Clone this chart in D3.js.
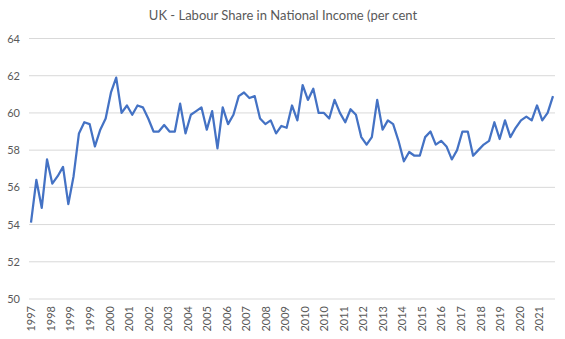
<!DOCTYPE html>
<html>
<head>
<meta charset="utf-8">
<script src="https://cdn.jsdelivr.net/npm/d3@7"></script>
<style>
  body { margin: 0; background: #fff; }
  text { font-family: Lato, "Open Sans", sans-serif; fill: #595959; }
</style>
</head>
<body>
<svg id="chart" width="565" height="339"></svg>
<script>
// Labour share of UK national income, quarterly, per cent
const chartTitle = "UK - Labour Share in National Income (per cent";
const firstQuarterEnd = [1997, 2]; // March 1997 (UTC month index)
const labourShare = [
  54.1, 56.4, 54.9, 57.5, 56.2, 56.6, 57.1, 55.1, 56.6, 58.9,
  59.5, 59.4, 58.2, 59.1, 59.7, 61.1, 61.9, 60.0, 60.4, 59.9,
  60.4, 60.3, 59.7, 59.0, 59.0, 59.35, 59.0, 59.0, 60.5, 58.9,
  59.9, 60.1, 60.3, 59.1, 60.1, 58.1, 60.3, 59.4, 59.9, 60.9,
  61.1, 60.8, 60.9, 59.7, 59.4, 59.6, 58.9, 59.3, 59.2, 60.4,
  59.6, 61.5, 60.7, 61.3, 60.0, 60.0, 59.7, 60.7, 60.0, 59.5,
  60.2, 59.9, 58.7, 58.3, 58.7, 60.7, 59.1, 59.6, 59.4, 58.5,
  57.4, 57.9, 57.7, 57.7, 58.7, 59.0, 58.3, 58.5, 58.2, 57.5,
  58.0, 59.0, 59.0, 57.7, 58.0, 58.3, 58.5, 59.5, 58.6, 59.6,
  58.7, 59.2, 59.6, 59.8, 59.6, 60.4, 59.6, 60.0, 60.9
];
const yTickValues = [50, 52, 54, 56, 58, 60, 62, 64];
const xTickStepMonths = 11;

const svg = d3.select("#chart");
const start = new Date(Date.UTC(firstQuarterEnd[0], firstQuarterEnd[1], 1));
const dates = labourShare.map((_, i) => d3.utcMonth.offset(start, 3 * i));
const spanMonths = 3 * (labourShare.length - 1);

const plot = { left: 29, right: 555, top: 38.5, bottom: 299 };
const x = d3.scaleUtc()
  .domain([dates[0], dates[dates.length - 1]])
  .range([31, 553]);
const y = d3.scaleLinear().domain([50, 64]).range([plot.bottom, plot.top]);

// title
svg.append("text")
  .attr("x", 283).attr("y", 20)
  .attr("text-anchor", "middle")
  .attr("font-size", 13)
  .text(chartTitle);

// horizontal gridlines
svg.append("g")
  .selectAll("line")
  .data(yTickValues)
  .join("line")
  .attr("x1", plot.left).attr("x2", plot.right)
  .attr("y1", d => y(d)).attr("y2", d => y(d))
  .attr("stroke", "#d9d9d9").attr("stroke-width", 1);

// y axis labels
const yAxis = svg.append("g")
  .attr("transform", `translate(${plot.left},0)`)
  .call(d3.axisLeft(y).tickValues(yTickValues).tickSize(0).tickPadding(9));
yAxis.select(".domain").remove();
yAxis.selectAll("text").attr("font-size", 11).attr("font-family", null).attr("fill", "#595959");

// x axis: date axis with a label every 11 months
const xTicks = d3.range(0, spanMonths + 1, xTickStepMonths).map(m => d3.utcMonth.offset(start, m));
const xAxis = svg.append("g")
  .attr("transform", `translate(0,${plot.bottom})`)
  .call(d3.axisBottom(x).tickValues(xTicks).tickFormat(d3.utcFormat("%Y")).tickSize(0));
xAxis.select(".domain").remove();
xAxis.selectAll("text")
  .attr("font-size", 11).attr("font-family", null).attr("fill", "#595959")
  .attr("transform", "rotate(-90)")
  .attr("text-anchor", "end")
  .attr("x", -7).attr("y", 0).attr("dy", "0.35em");

// series line
svg.append("path")
  .datum(labourShare)
  .attr("fill", "none")
  .attr("stroke", "#4472c4")
  .attr("stroke-width", 2.25)
  .attr("stroke-linejoin", "round")
  .attr("d", d3.line().x((d, i) => x(dates[i])).y(d => y(d)));
</script>
</body>
</html>
